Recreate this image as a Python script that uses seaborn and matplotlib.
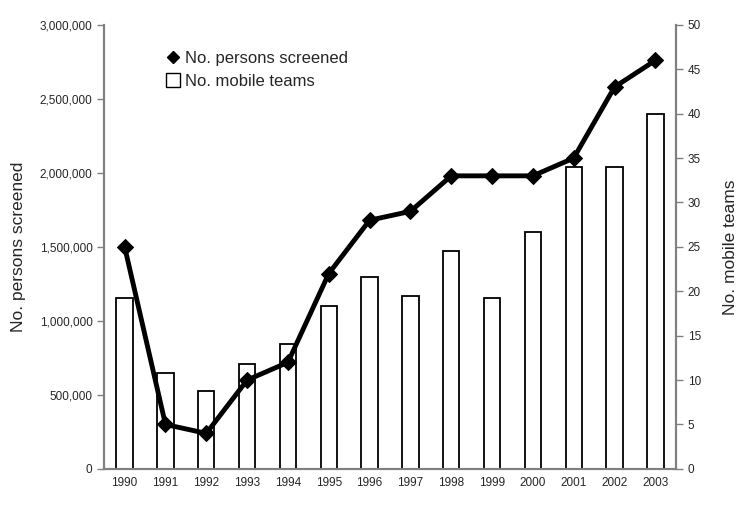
import numpy as np
import pandas as pd
import seaborn as sns
import matplotlib.pyplot as plt
from matplotlib.lines import Line2D
from matplotlib.ticker import FuncFormatter, MultipleLocator, FixedLocator

sns.set_style("white")
plt.rcParams['font.family'] = ['Liberation Sans', 'DejaVu Sans']

years = ['1990', '1991', '1992', '1993', '1994', '1995', '1996',
         '1997', '1998', '1999', '2000', '2001', '2002', '2003']
persons_screened = [1500000, 300000, 240000, 600000, 720000, 1320000, 1680000,
                    1740000, 1980000, 1980000, 1980000, 2100000, 2580000, 2760000]
mobile_teams = [19.3, 10.8, 8.8, 11.8, 14.1, 18.3, 21.6,
                19.5, 24.5, 19.3, 26.7, 34, 34, 40]

df = pd.DataFrame({'year': years, 'persons': persons_screened, 'teams': mobile_teams})
df['pos'] = np.arange(len(years))

fig = plt.figure(figsize=(7.5, 5.08), dpi=100)
ax = fig.add_axes([0.139, 0.077, 0.762, 0.874])
ax2 = ax.twinx()

# bars on the right axis
sns.barplot(data=df, x='year', y='teams', ax=ax2, color='white',
            edgecolor='black', linewidth=1.3, width=0.4, saturation=1)

# line on the left axis, drawn above the bars
sns.lineplot(data=df, x='pos', y='persons', ax=ax, color='black',
             linewidth=3.5, marker='D', markersize=8.5, markeredgecolor='black')
ax.set_zorder(ax2.get_zorder() + 1)
ax.patch.set_visible(False)

ax.set_xlim(-0.5, len(years) - 0.5)
ax.set_ylim(0, 3000000)
ax2.set_ylim(0, 50)

ax.yaxis.set_major_locator(MultipleLocator(500000))
ax.yaxis.set_major_formatter(FuncFormatter(lambda v, p: f'{int(v):,}'))
ax2.yaxis.set_major_locator(MultipleLocator(5))

ax.set_xticks(df['pos'])
ax.set_xticklabels(years)
ax.xaxis.set_minor_locator(FixedLocator(np.arange(0.5, len(years) - 1, 1)))
ax.tick_params(axis='x', which='major', length=0, labelsize=8.5, pad=6)
ax.tick_params(axis='x', which='minor', length=6, direction='inout',
               color='#808080', width=1)
ax.tick_params(axis='y', length=5, direction='out', color='#808080',
               width=1, labelsize=8.5, left=True)
ax2.tick_params(axis='y', length=5, direction='out', color='#808080',
                width=1, labelsize=8.5, right=True)
ax2.set_xlabel('')

ax.set_xlabel('')
ax.set_ylabel('No. persons screened', fontsize=12.5, labelpad=10)
ax2.set_ylabel('No. mobile teams', fontsize=12.5, labelpad=16)

for a in (ax, ax2):
    a.spines['top'].set_visible(False)
    for side in ('left', 'right', 'bottom'):
        a.spines[side].set_color('#808080')
        a.spines[side].set_linewidth(1.5)

handles = [
    Line2D([], [], color='black', marker='D', linestyle='none', markersize=6),
    Line2D([], [], color='black', marker='s', markerfacecolor='white',
           linestyle='none', markersize=10, markeredgewidth=1),
]
ax.legend(handles, ['No. persons screened', 'No. mobile teams'],
          loc='upper left', bbox_to_anchor=(0.08, 0.975), frameon=False,
          fontsize=12, handletextpad=0.2, labelspacing=0.5, handlelength=1.0)

fig.savefig('out.png', dpi=100)
